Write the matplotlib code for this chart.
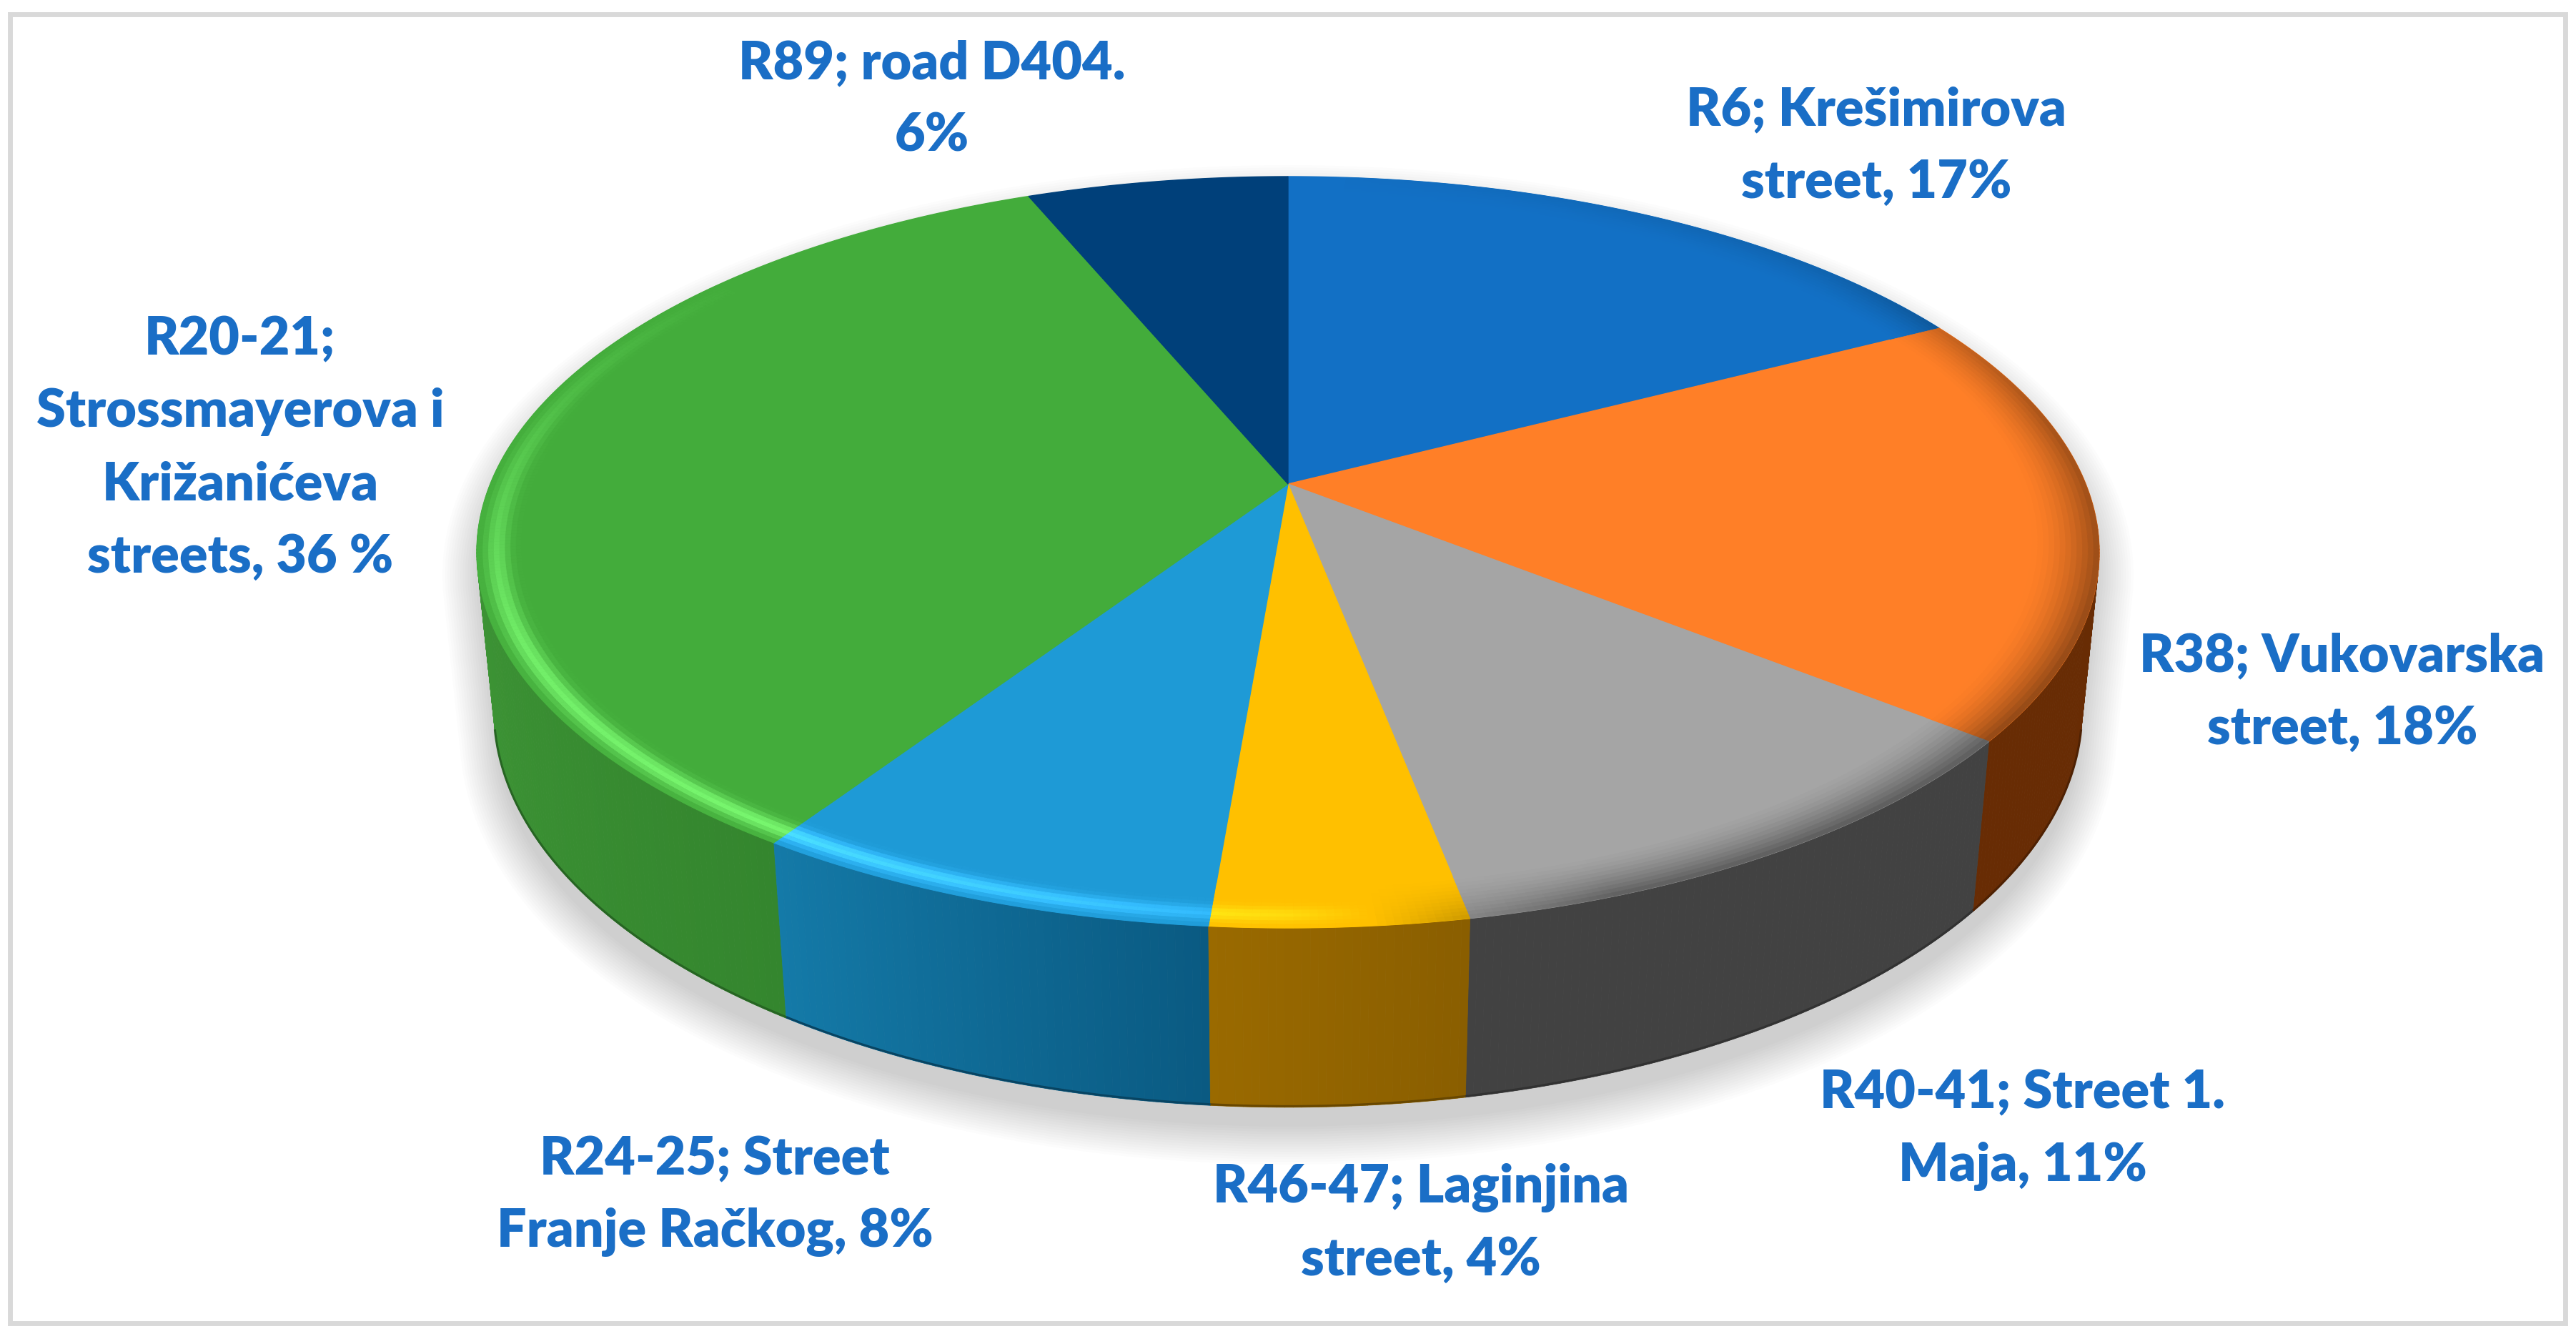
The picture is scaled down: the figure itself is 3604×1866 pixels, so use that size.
import numpy as np
import matplotlib
matplotlib.use("Agg")
import matplotlib.pyplot as plt
from matplotlib.collections import PolyCollection
from matplotlib.patches import Polygon, Rectangle

# ---------------- data ----------------
categories = ["R6", "R38", "R40-41", "R46-47", "R24-25", "R20-21", "R89"]
values = [17.3, 18.5, 11.2, 4.3, 7.9, 34.6, 6.2]          # slice shares
label_lines = [
    ["R6; Krešimirova", "street, 17%"],
    ["R38; Vukovarska", "street, 18%"],
    ["R40-41; Street 1.", "Maja, 11%"],
    ["R46-47; Laginjina", "street, 4%"],
    ["R24-25; Street", "Franje Račkog, 8%"],
    ["R20-21;", "Strossmayerova i", "Križanićeva", "streets, 36 %"],
    ["R89; road D404.", "6%"],
]

# ---------------- style ----------------
top_colors = [(18, 112, 197), (255, 127, 39), (165, 165, 165), (255, 192, 0),
              (30, 154, 214), (67, 172, 59), (0, 64, 122)]
side_left = [(12, 70, 120), (104, 44, 4), (66, 66, 66), (154, 106, 0),
             (20, 122, 168), (62, 150, 54), (0, 40, 80)]
side_right = [(12, 70, 120), (104, 44, 4), (66, 66, 66), (138, 94, 0),
              (10, 90, 130), (52, 134, 46), (0, 40, 80)]
label_pos = [(2625, 175), (3277, 939), (2830, 1550), (1988, 1682),
             (1000, 1643), (336, 496), (1304, 110)]
LINE_STEP = 101.5
TXT = "#1A6EC6"

W, H = 3605, 1866
fig = plt.figure(figsize=(W / 100, H / 100), dpi=100)
ax = fig.add_axes([0, 0, 1, 1])
ax.set_xlim(0, W)
ax.set_ylim(H, 0)
ax.axis("off")

# perspective camera for the 3D pie
CX, CY = 1802.0, 677.0
FOC, DIST = 5471.0, 4.902
SE = 0.4553
CE = np.sqrt(1 - SE ** 2)
HGT = 0.225


def project(theta, r=1.0, y=0.0):
    t = np.radians(theta)
    X = r * np.sin(t)
    Z = -r * np.cos(t)
    up = y * CE - Z * SE
    depth = DIST - Z * CE - y * SE
    return CX + FOC * X / depth, CY - FOC * up / depth, depth


def c01(c):
    return np.clip(np.array(c, dtype=float) / 255.0, 0, 1)


vals = np.array(values, dtype=float)
edges = np.concatenate([[0], np.cumsum(vals)]) / vals.sum() * 360.0

# frame
ax.add_patch(Rectangle((14, 19.5), 3575, 1831.5, fill=False, ec="#D9D9D9", lw=5, zorder=1))

# ---------------- soft shadow ----------------
th_all = np.linspace(0, 360, 721)
tx, ty, _ = project(th_all, 1.0, 0.0)
bx, by, _ = project(th_all, 1.0, -HGT)
pts = np.vstack([np.column_stack([tx, ty]), np.column_stack([bx, by])])


def hull(P):
    P = sorted(map(tuple, P))
    def cross(o, a, b):
        return (a[0] - o[0]) * (b[1] - o[1]) - (a[1] - o[1]) * (b[0] - o[0])
    lower, upper = [], []
    for p in P:
        while len(lower) >= 2 and cross(lower[-2], lower[-1], p) <= 0:
            lower.pop()
        lower.append(p)
    for p in reversed(P):
        while len(upper) >= 2 and cross(upper[-2], upper[-1], p) <= 0:
            upper.pop()
        upper.append(p)
    return np.array(lower[:-1] + upper[:-1])


hp = hull(pts)
cen = hp.mean(axis=0)
prev = np.roll(hp, 1, axis=0)
nxt = np.roll(hp, -1, axis=0)
tang = nxt - prev
nrm = np.column_stack([tang[:, 1], -tang[:, 0]])
nrm /= np.linalg.norm(nrm, axis=1)[:, None] + 1e-9
flip = np.sum(nrm * (hp - cen), axis=1) < 0
nrm[flip] *= -1
for d in np.linspace(48, -5, 16):
    poly = hp + nrm * d + np.array([0, 32])
    ax.add_patch(Polygon(poly, closed=True, fc=(0, 0, 0, 0.0105), ec="none", zorder=2))

# ---------------- side wall ----------------
quads, qcols, qdepth = [], [], []
STEP = 0.5
for i in range(len(vals)):
    a, b = edges[i], edges[i + 1]
    lo, hi = max(a, 96.0), min(b, 264.0)
    if hi <= lo:
        continue
    n = max(2, int(np.ceil((hi - lo) / STEP)))
    ths = np.linspace(lo, hi, n + 1)
    for k in range(n):
        t0, t1 = ths[k], ths[k + 1]
        x0, y0, _ = project(t0, 1, 0)
        x1, y1, _ = project(t1, 1, 0)
        x2, y2, _ = project(t1, 1, -HGT)
        x3, y3, _ = project(t0, 1, -HGT)
        _, _, dm = project(0.5 * (t0 + t1), 1, -HGT / 2)
        f = (0.5 * (t0 + t1) - lo) / (hi - lo)
        col = c01(side_right[i]) * (1 - f) + c01(side_left[i]) * f
        quads.append([(x0, y0), (x1, y1), (x2, y2), (x3, y3)])
        qcols.append(col)
        qdepth.append(dm)
order = np.argsort(-np.array(qdepth))
quads = [quads[j] for j in order]
qcols = [qcols[j] for j in order]
ax.add_collection(PolyCollection(quads, facecolors=qcols, edgecolors=qcols, linewidths=0.6, zorder=3))

# dark line along bottom edge
for i in range(len(vals)):
    lo, hi = max(edges[i], 103.0), min(edges[i + 1], 257.0)
    if hi <= lo:
        continue
    th = np.linspace(lo, hi, 200)
    x, y, _ = project(th, 1, -HGT)
    lc = c01(side_right[i]) * 0.75
    ax.plot(x, y - 1.5, color=lc, lw=2.2, solid_capstyle="butt", zorder=3.5)

# ---------------- top face ----------------
for i in range(len(vals)):
    a, b = edges[i], edges[i + 1]
    th = np.linspace(a, b, max(8, int((b - a) * 4)))
    x, y, _ = project(th, 1, 0)
    poly = np.vstack([[CX, CY], np.column_stack([x, y])])
    col = c01(top_colors[i])
    ax.add_patch(Polygon(poly, closed=True, fc=col, ec=col, lw=1.0, zorder=4))

# ---------------- bevel shading on rim ----------------
th_tab = [0, 50, 80, 110, 140, 160, 170, 180, 195, 215, 245, 265, 285, 310, 360]
L_tab = [0, -0.2, -0.6, -0.7, -0.75, -0.72, -0.3, 0.3, 0.6, 0.85, 0.75, 0.45, 0.2, 0.0, 0]
BW = 0.08
NR = 12
rs = np.linspace(1 - BW, 1.0, NR + 1)
bq, bc = [], []
for i in range(len(vals)):
    a, b = edges[i], edges[i + 1]
    n = max(2, int(np.ceil((b - a) / STEP)))
    ths = np.linspace(a, b, n + 1)
    base = c01(top_colors[i])
    for k in range(n):
        t0, t1 = ths[k], ths[k + 1]
        L = np.interp(0.5 * (t0 + t1), th_tab, L_tab)
        if abs(L) < 0.02:
            continue
        for j in range(NR):
            r0, r1 = rs[j], rs[j + 1]
            tt = (0.5 * (r0 + r1) - (1 - BW)) / BW
            if L > 0:
                w = L * np.exp(-((tt - 0.7) / 0.17) ** 2)
                col = base + (1 - base) * 0.18 * w + base * 0.42 * w
            else:
                col = base * (1 - 0.6 * (-L) * tt ** 1.6)
            col = np.clip(col, 0, 1)
            xa, ya, _ = project(t0, r0, 0)
            xb, yb, _ = project(t1, r0, 0)
            xc, yc, _ = project(t1, r1, 0)
            xd, yd, _ = project(t0, r1, 0)
            bq.append([(xa, ya), (xb, yb), (xc, yc), (xd, yd)])
            bc.append(col)
ax.add_collection(PolyCollection(bq, facecolors=bc, edgecolors=bc, linewidths=0.5, zorder=5))

# ---------------- labels ----------------
for lines, (lx, ly) in zip(label_lines, label_pos):
    for j, s in enumerate(lines):
        ax.text(lx, ly + j * LINE_STEP, s, ha="center", va="baseline", fontsize=53,
                fontweight="heavy", color=TXT, family=["Lato", "DejaVu Sans"], zorder=6)

fig.savefig("out.png", dpi=100)
